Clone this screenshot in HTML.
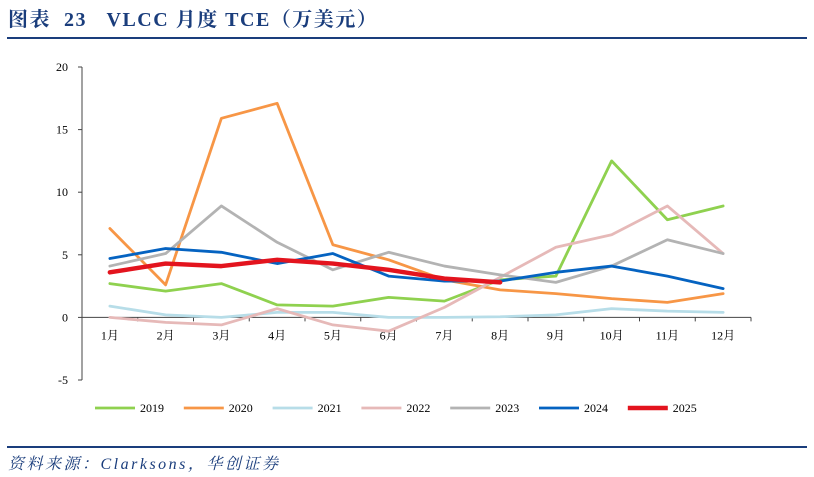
<!DOCTYPE html>
<html><head><meta charset="utf-8"><style>
body{margin:0;width:814px;height:477px;background:#fff;overflow:hidden;font-family:"Liberation Serif","Noto Serif CJK SC",serif;}
.title{position:absolute;left:8px;top:3px;font-size:20px;font-weight:bold;color:#1a3d7c;letter-spacing:1.5px;}
.rule{position:absolute;left:7px;width:800px;height:2px;background:#1a3d7c;}
.src{position:absolute;left:8px;top:451px;font-size:16px;font-style:italic;color:#1a3d7c;letter-spacing:2.5px;}
</style></head><body>
<div class="title">图表&nbsp; 23&nbsp;&nbsp; VLCC 月度 TCE（万美元）</div>
<div class="rule" style="top:37px"></div>
<svg id="c" width="814" height="477" style="position:absolute;left:0;top:0"></svg>
<div class="rule" style="top:446px"></div>
<div class="src">资料来源：Clarksons，华创证券</div>
<script>
const categories=["1月","2月","3月","4月","5月","6月","7月","8月","9月","10月","11月","12月"];
const yTicks=[20,15,10,5,0,-5];
const years=["2019","2020","2021","2022","2023","2024","2025"];
const s2019=[2.7,2.1,2.7,1.0,0.9,1.6,1.3,3.0,3.3,12.5,7.8,8.9];
const s2020=[7.1,2.6,15.9,17.1,5.8,4.6,3.0,2.2,1.9,1.5,1.2,1.9];
const s2021=[0.9,0.2,0.0,0.4,0.4,0.0,0.0,0.05,0.2,0.7,0.5,0.4];
const s2022=[0.0,-0.4,-0.6,0.7,-0.6,-1.1,0.8,3.2,5.6,6.6,8.9,5.1];
const s2023=[4.1,5.1,8.9,6.0,3.8,5.2,4.1,3.4,2.8,4.1,6.2,5.1];
const s2024=[4.7,5.5,5.2,4.3,5.1,3.3,2.9,2.9,3.6,4.1,3.3,2.3];
const s2025=[3.6,4.3,4.1,4.6,4.3,3.8,3.1,2.8];
const series=[s2019,s2020,s2021,s2022,s2023,s2024,s2025];
const colors=["#8fd14f","#f79646","#b7dde8","#e6b9b8","#b3b3b3","#0563c1","#e3141e"];
const widths=[2.8,2.8,2.8,2.8,2.8,2.8,4.5];
const svg=document.getElementById('c');const NS="http://www.w3.org/2000/svg";
const x0=82,x1=751,yTop=67,yBot=380,vMax=20,vMin=-5;
const bw=(x1-x0)/categories.length;
const X=i=>x0+bw*(i+0.5);
const Y=v=>yTop+(vMax-v)/(vMax-vMin)*(yBot-yTop);
function mk(t,a){const e=document.createElementNS(NS,t);for(const k in a)e.setAttribute(k,a[k]);svg.appendChild(e);return e;}
let ax=mk('line',{x1:x0,x2:x0,y1:yTop,y2:yBot,stroke:'#444','stroke-width':1});


yTicks.forEach(v=>{
 const t=mk('line',{x1:x0-4,x2:x0,y1:Y(v),y2:Y(v),stroke:'#444'});
 
 
 const l=mk('text',{x:x0-14,y:Y(v)+4,'text-anchor':'end','font-size':12,fill:'#000'});
 l.textContent=v;
 
 
});
let xa=mk('line',{x1:x0,x2:x1,y1:Y(0),y2:Y(0),stroke:'#444','stroke-width':1});


for(let i=0;i<=categories.length;i++){
 const t=mk('line',{x1:x0+bw*i,x2:x0+bw*i,y1:Y(0),y2:Y(0)+4,stroke:'#444'});
 
 
}
categories.forEach((c,i)=>{
 const l=mk('text',{x:X(i),y:Y(0)+22,'text-anchor':'middle','font-size':12,fill:'#000'});
 l.textContent=c;
 
 
});
series.forEach((s,k)=>{
 const p=mk('polyline',{points:s.map((v,i)=>X(i)+','+Y(v)).join(' '),fill:'none',stroke:colors[k],'stroke-width':widths[k],'stroke-linejoin':'round','stroke-linecap':'round'});
 
 
});
years.forEach((y,k)=>{
 const lx=95+k*88.8;
 const l=mk('line',{x1:lx,x2:lx+40,y1:408,y2:408,stroke:colors[k],'stroke-width':widths[k]});
 
 
 const t=mk('text',{x:lx+45,y:412,'font-size':12,fill:'#000'});
 t.textContent=y;
 
 
});
</script>
</body></html>
